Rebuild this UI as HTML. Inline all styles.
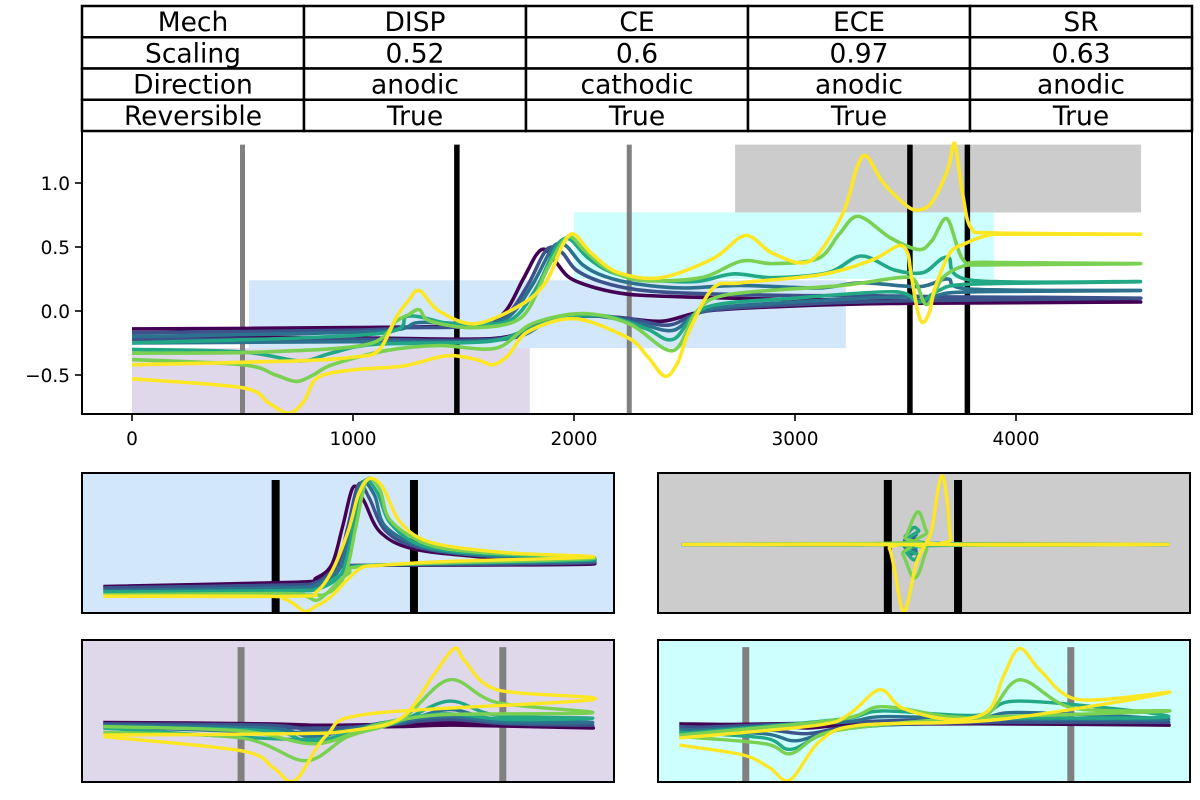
<!DOCTYPE html>
<html><head><meta charset="utf-8"><style>
html,body{margin:0;padding:0;background:#fff;width:1200px;height:800px;overflow:hidden}
text{font-family:"DejaVu Sans","Liberation Sans",sans-serif}
</style></head><body>
<svg id="fig" width="1200" height="800" viewBox="0 0 1200 800" xmlns="http://www.w3.org/2000/svg">
<g id="table"></g>
<g id="main"></g>
<g id="insets"></g>
</svg>
<script>
// ---------- table data ----------
const tableRows = [
  ["Mech","DISP","CE","ECE","SR"],
  ["Scaling","0.52","0.6","0.97","0.63"],
  ["Direction","anodic","cathodic","anodic","anodic"],
  ["Reversible","True","True","True","True"]
];
// ---------- main chart data ----------
const xTicks = [0,1000,2000,3000,4000];
const yTicks = [-0.5,0.0,0.5,1.0];
const yTickLabels = ["\u22120.5","0.0","0.5","1.0"];
const seriesColors = ["#440154","#3b528b","#2c728e","#22a884","#7ad151","#fde725"];
const rectRegions = [ // x0,x1,y0,y1 in data units
  [0,1800,-0.81,-0.29],
  [529,3230,-0.29,0.24],
  [2000,3900,0.25,0.77],
  [2729,4566,0.77,1.3]
];
const rectColors = ["#dfd7ea","#d3e7fa","#ccfffe","#cccccc"];
const vlinePos = [500,2250,1470,3520,3780];
const vlineColors = ["#808080","#808080","#000000","#000000","#000000"];
const vlineTop = 1.3;
const s0 = [[0,-0.2],[1000,-0.21],[1500,-0.22],[1700,-0.2],[1850,-0.1],[2000,-0.03],[2200,-0.05],[2400,-0.08],[2600,0.0],[3000,0.04],[3500,0.06],[4564,0.07],
 [3600,0.08],[3000,0.09],[2500,0.11],[2250,0.13],[2100,0.18],[1980,0.26],[1920,0.38],[1870,0.48],[1830,0.44],[1770,0.25],[1680,-0.02],[1550,-0.11],[1000,-0.13],[0,-0.14]];
const s1 = [[0,-0.22],[1000,-0.22],[1500,-0.23],[1720,-0.2],[1870,-0.09],[2050,-0.04],[2250,-0.06],[2430,-0.11],[2600,0.0],[3000,0.05],[3500,0.08],[4564,0.1],
 [3700,0.11],[3300,0.12],[3000,0.12],[2500,0.14],[2270,0.17],[2120,0.23],[2010,0.32],[1950,0.45],[1900,0.5],[1860,0.44],[1790,0.2],[1690,-0.04],[1550,-0.12],[1250,-0.13],[1000,-0.15],[0,-0.17]];
const s2 = [[0,-0.25],[1000,-0.24],[1500,-0.24],[1750,-0.2],[1900,-0.07],[2100,-0.04],[2300,-0.1],[2450,-0.15],[2600,0.01],[3000,0.07],[3500,0.11],[3560,0.07],[3640,0.12],[3800,0.15],[4564,0.16],
 [3800,0.17],[3690,0.25],[3560,0.19],[3300,0.22],[3100,0.18],[2750,0.2],[2500,0.18],[2290,0.21],[2140,0.27],[2040,0.36],[1970,0.5],[1930,0.53],[1890,0.46],[1810,0.2],[1700,-0.05],[1550,-0.1],[1300,-0.09],[1100,-0.16],[0,-0.2]];
const s3 = [[0,-0.3],[500,-0.32],[760,-0.39],[900,-0.33],[1100,-0.26],[1600,-0.24],[1780,-0.15],[1950,-0.05],[2150,-0.04],[2330,-0.14],[2450,-0.22],[2600,0.03],[3000,0.1],[3450,0.15],[3560,0.07],[3650,0.16],[3800,0.21],[4564,0.23],
 [3800,0.24],[3690,0.42],[3580,0.3],[3450,0.32],[3300,0.43],[3150,0.3],[2900,0.26],[2720,0.29],[2550,0.23],[2300,0.25],[2160,0.31],[2060,0.42],[1990,0.55],[1950,0.56],[1910,0.47],[1820,0.15],[1700,-0.08],[1450,-0.1],[1250,-0.04],[1100,-0.18],[0,-0.25]];
const s4 = [[0,-0.38],[501,-0.42],[650,-0.5],[743,-0.55],[820,-0.5],[905,-0.42],[1147,-0.31],[1389,-0.27],[1648,-0.29],[1810,-0.1],[2036,-0.02],[2250,-0.1],[2447,-0.31],[2557,0.0],[2703,0.13],[3213,0.2],[3469,0.26],[3541,0.24],[3596,0.05],[3669,0.26],[3761,0.35],[3870,0.36],[4564,0.37],
 [3870,0.38],[3761,0.4],[3688,0.72],[3620,0.55],[3561,0.48],[3433,0.57],[3287,0.74],[3200,0.6],[3105,0.41],[2900,0.37],[2757,0.39],[2574,0.26],[2300,0.24],[2150,0.33],[2050,0.47],[1985,0.58],[1940,0.52],[1874,0.31],[1762,-0.05],[1552,-0.13],[1350,-0.08],[1300,0.01],[1250,-0.03],[1196,-0.08],[1067,-0.26],[600,-0.32],[0,-0.33]];
const s5 = [[0,-0.53],[501,-0.6],[620,-0.72],[711,-0.8],[780,-0.7],[840,-0.52],[1000,-0.46],[1227,-0.43],[1422,-0.35],[1560,-0.38],[1632,-0.42],[1700,-0.35],[1793,-0.16],[2004,-0.06],[2245,-0.21],[2330,-0.35],[2411,-0.51],[2470,-0.4],[2520,-0.16],[2630,0.18],[2757,0.22],[3122,0.285],[3350,0.4],[3469,0.51],[3510,0.45],[3524,0.3],[3555,0.0],[3579,-0.09],[3610,0.0],[3633,0.18],[3700,0.45],[3761,0.52],[3870,0.59],[4000,0.6],[4564,0.6],
 [3900,0.61],[3797,0.65],[3760,0.9],[3730,1.25],[3716,1.3],[3690,1.1],[3620,0.85],[3561,0.79],[3507,0.82],[3400,1.0],[3323,1.21],[3280,1.12],[3213,0.75],[3068,0.39],[2900,0.45],[2776,0.59],[2630,0.41],[2393,0.26],[2200,0.3],[2080,0.45],[2000,0.6],[1950,0.52],[1874,0.23],[1762,0.05],[1552,-0.1],[1389,0],[1300,0.16],[1250,0.08],[1196,-0.05],[1115,-0.31],[1000,-0.36],[743,-0.39],[0,-0.42]];
const mainSeries = [s0,s1,s2,s3,s4,s5];

// ---------- inset data (local units 0..100) ----------
const dispSeries = [
 [[4,19],[38,21],[44,23],[48,33],[53,34],[96,35],[75,40],[62,46],[56,58],[53,80],[51,90],[49,62],[47,35],[44,25],[40,22],[4,19]],
 [[4,18],[38,20],[44,22],[48,32],[53,34],[96,36],[75,41],[63,47],[57,59],[54,82],[52,92],[50,62],[48,34],[45,23],[40,20],[4,18]],
 [[4,16],[38,18],[44,20],[48,30],[53,34],[96,37],[75,41],[64,47],[57,62],[55,84],[52.5,93],[50.5,62],[48.5,32],[45,21],[40,18],[4,16]],
 [[4,15],[38,16],[44,17],[49,28],[54,34],[96,38],[76,42],[64,48],[58,64],[55.5,86],[53,94],[51,62],[49,30],[45,18],[40,16],[4,15]],
 [[4,13],[38,14],[42,12],[44,9],[46,14],[50,28],[55,34],[96,39],[76,43],[65,49],[58,66],[56,88],[53.5,95],[51.5,62],[49.5,28],[46,14],[40,13],[4,13]],
 [[4,12],[34,12],[38,10],[40,6],[42,1],[44,5],[46.6,11],[52,31],[56,34],[70,37],[96,40],[80,43],[66,50],[60,64],[56.5,90],[54,96],[52,85],[50,58],[47,30],[44,15],[40,12],[4,12]]
];
const ceSeries = [
 [[4,42],[35,41],[50,39],[60,39],[70,40],[96,38],[80,40],[70,42],[60,41],[45,40],[4,41]],
 [[4,41],[35,40],[44,36],[52,39],[60,41],[69,46],[78,42],[96,40],[80,41],[69,44],[58,41],[44,38],[4,40]],
 [[4,40],[35,38],[43,32],[52,38],[60,42],[69,51],[78,44],[96,42],[80,42],[69,46],[57,42],[43,35],[4,39]],
 [[4,39],[35,36],[43,28],[52,37],[60,43],[69,57],[78,47],[96,45],[80,44],[68,48],[57,42],[43,30],[4,38]],
 [[4,35],[30,31],[42,15],[50,32],[60,44],[69,72],[78,56],[96,49],[80,48],[66,47],[55,40],[44,27],[30,36],[4,39]],
 [[4,32],[30,22],[36,10],[40,1],[46,33],[54,48],[96,58],[78,65],[72,85],[70,94],[66,75],[60,45],[50,36],[40,34],[4,33]]
];
const eceSeries = [
 [[4.5,49],[45,49],[47,47],[48.5,48],[50,49],[95.9,49],[50,49],[48.5,51],[47,50],[45,49],[4.5,49]],
 [[4.5,49],[45,49],[47,45],[48.5,47],[50,49],[95.9,49],[50,49],[48.5,53],[47,51],[45,49],[4.5,49]],
 [[4.5,49],[45,49],[47,42],[48.5,44],[50,49],[95.9,49],[50,49],[48.5,56],[47,53],[45,49],[4.5,49]],
 [[4.5,49],[44.5,49],[46.5,44],[48,38],[49,41],[50.5,48],[95.9,49],[51,50],[49,59],[48,61],[46.5,55],[44.5,49],[4.5,49]],
 [[4.5,49],[44,49],[46,42],[47.5,28],[48.3,25],[49.2,30],[50.5,45],[52,49],[95.9,49],[52,49],[50.5,58],[49.4,70],[48.7,72],[47.8,66],[46.5,54],[45,50],[4.5,49]],
 [[4.5,49],[42,49],[43.5,46],[44.5,30],[45.5,8],[46.2,1],[47,8],[48.5,35],[50,47],[51,49],[95.9,49],[56,49],[55,53],[54.5,75],[53.8,95],[53.2,97],[52.5,85],[51.5,60],[50.5,51],[49,49],[4.5,49]]
];
const srSeries = [
 [[4,41],[20,40],[28,38],[36,40],[60,41],[96,40],[70,41],[45,42],[4,40]],
 [[4,39],[20,37],[28,34],[36,39],[50,41],[64,42],[96,42],[68,44],[42,43],[4,38]],
 [[4,37],[20,34],[26,29],[34,37],[50,42],[64,44],[96,44],[68,49],[60,45],[42,46],[34,42],[4,36]],
 [[4,35],[20,31],[25,23],[33,36],[50,43],[64,45],[96,46],[68,57],[60,47],[42,50],[34,44],[4,34]],
 [[4,32],[20,27],[25,20],[32,35],[50,43],[64,46],[96,50],[78,52],[68,72],[62,48],[55,46],[42,53],[34,44],[4,33]],
 [[4,26],[16,19],[21,10],[24.8,1.4],[30.5,29],[38,40],[64,44],[96,63],[79,58],[72,78],[68,94],[65,75],[62,50],[55,44],[46,52],[41.7,65],[36,48],[30,40],[4,31]]
];
const insetPanels = [
 {name:"disp", x:82,y:473,w:532,h:140,bg:"#d3e7fa",series:dispSeries,lines:[[36.4,"#000"],[62.4,"#000"]]},
 {name:"ece",  x:658,y:473,w:532,h:140,bg:"#cccccc",series:eceSeries,lines:[[43.2,"#000"],[56.4,"#000"]]},
 {name:"ce",   x:82,y:640,w:532,h:142,bg:"#dfd7ea",series:ceSeries,lines:[[29.9,"#808080"],[79.1,"#808080"]]},
 {name:"sr",   x:658,y:640,w:532,h:142,bg:"#ccfffe",series:srSeries,lines:[[16.5,"#808080"],[77.6,"#808080"]]}
];

const NS="http://www.w3.org/2000/svg";
function mk(tag,attrs,parent){const e=document.createElementNS(NS,tag);for(const k in attrs)e.setAttribute(k,attrs[k]);parent.appendChild(e);return e;}
function smoothPath(pts){
  let d="M"+pts[0][0].toFixed(1)+","+pts[0][1].toFixed(1);
  for(let i=0;i<pts.length-1;i++){
    const p0=pts[Math.max(0,i-1)],p1=pts[i],p2=pts[i+1],p3=pts[Math.min(pts.length-1,i+2)];
    const t=0.16;
    const c1=[p1[0]+(p2[0]-p0[0])*t,p1[1]+(p2[1]-p0[1])*t];
    const c2=[p2[0]-(p3[0]-p1[0])*t,p2[1]-(p3[1]-p1[1])*t];
    d+=" C"+c1[0].toFixed(1)+","+c1[1].toFixed(1)+" "+c2[0].toFixed(1)+","+c2[1].toFixed(1)+" "+p2[0].toFixed(1)+","+p2[1].toFixed(1);
  }
  return d;
}

// ---------- table ----------
const tg=document.getElementById("table");
const tX=82,tY=6,cw=222,rh=31.25;
tableRows.forEach((row,r)=>row.forEach((txt,c)=>{
  const cell=mk("rect",{x:tX+c*cw,y:tY+r*rh,width:cw,height:rh,fill:"#fff",stroke:"#000","stroke-width":2.5},tg);
  
  
  const t=mk("text",{x:tX+c*cw+cw/2,y:tY+r*rh+25,"text-anchor":"middle","font-size":26.5},tg);
  
  
  t.textContent=txt;
}));

// ---------- main chart ----------
const mg=document.getElementById("main");
const PX0=82,PX1=1192,PY0=131,PY1=414;
const sx=v=>132+v*0.221;
const sy=v=>311-v*128;
const clipM=mk("clipPath",{id:"clipMain"},mk("defs",{},mg));
mk("rect",{x:PX0,y:PY0,width:PX1-PX0,height:PY1-PY0},clipM);
const plotG=mk("g",{"clip-path":"url(#clipMain)"},mg);
rectRegions.forEach((r,i)=>{
  const e=mk("rect",{x:sx(r[0]),y:sy(r[3]),width:sx(r[1])-sx(r[0]),height:sy(r[2])-sy(r[3]),fill:rectColors[i]},plotG);
  
  
});
vlinePos.forEach((v,i)=>{
  const e=mk("line",{x1:sx(v),x2:sx(v),y1:sy(vlineTop),y2:PY1,stroke:vlineColors[i],"stroke-width":vlineColors[i]=="#000000"?5.5:5},plotG);
  
  
});
mainSeries.forEach((s,i)=>{
  const e=mk("path",{d:smoothPath(s.map(p=>[sx(p[0]),sy(p[1])])),fill:"none",stroke:seriesColors[i],"stroke-width":3.6,"stroke-linejoin":"round"},plotG);
  
  
});
const frame=mk("rect",{x:PX0,y:PY0,width:PX1-PX0,height:PY1-PY0,fill:"none",stroke:"#000","stroke-width":2},mg);


xTicks.forEach(v=>{
  mk("line",{x1:sx(v),x2:sx(v),y1:PY1,y2:PY1+7,stroke:"#000","stroke-width":1.6},mg);
  const t=mk("text",{x:sx(v),y:PY1+31,"text-anchor":"middle","font-size":18.5},mg);
  
  
  t.textContent=v;
});
yTicks.forEach((v,i)=>{
  mk("line",{x1:PX0-7,x2:PX0,y1:sy(v),y2:sy(v),stroke:"#000","stroke-width":1.6},mg);
  const t=mk("text",{x:PX0-12,y:sy(v)+7,"text-anchor":"end","font-size":18.5},mg);
  
  
  t.textContent=yTickLabels[i];
});

// ---------- insets ----------
const ig=document.getElementById("insets");
const defs=mk("defs",{},ig);
insetPanels.forEach(p=>{
  const g=mk("g",{},ig);
  
  
  const cp=mk("clipPath",{id:"clip-"+p.name},defs);
  mk("rect",{x:p.x,y:p.y,width:p.w,height:p.h},cp);
  mk("rect",{x:p.x,y:p.y,width:p.w,height:p.h,fill:p.bg},g);
  const ix=v=>p.x+v/100*p.w, iy=v=>p.y+p.h-v/100*p.h;
  const inner=mk("g",{"clip-path":"url(#clip-"+p.name+")"},g);
  p.lines.forEach(l=>{
    const e=mk("line",{x1:ix(l[0]),x2:ix(l[0]),y1:iy(95),y2:p.y+p.h,stroke:l[1],"stroke-width":l[1]=="#000"?8:7},inner);
    
    
  });
  p.series.forEach((s,i)=>{
    const e=mk("path",{d:smoothPath(s.map(q=>[ix(q[0]),iy(q[1])])),fill:"none",stroke:seriesColors[i],"stroke-width":3.4,"stroke-linejoin":"round"},inner);
    
    
  });
  mk("rect",{x:p.x,y:p.y,width:p.w,height:p.h,fill:"none",stroke:"#000","stroke-width":2},g);
});
</script>
</body></html>
